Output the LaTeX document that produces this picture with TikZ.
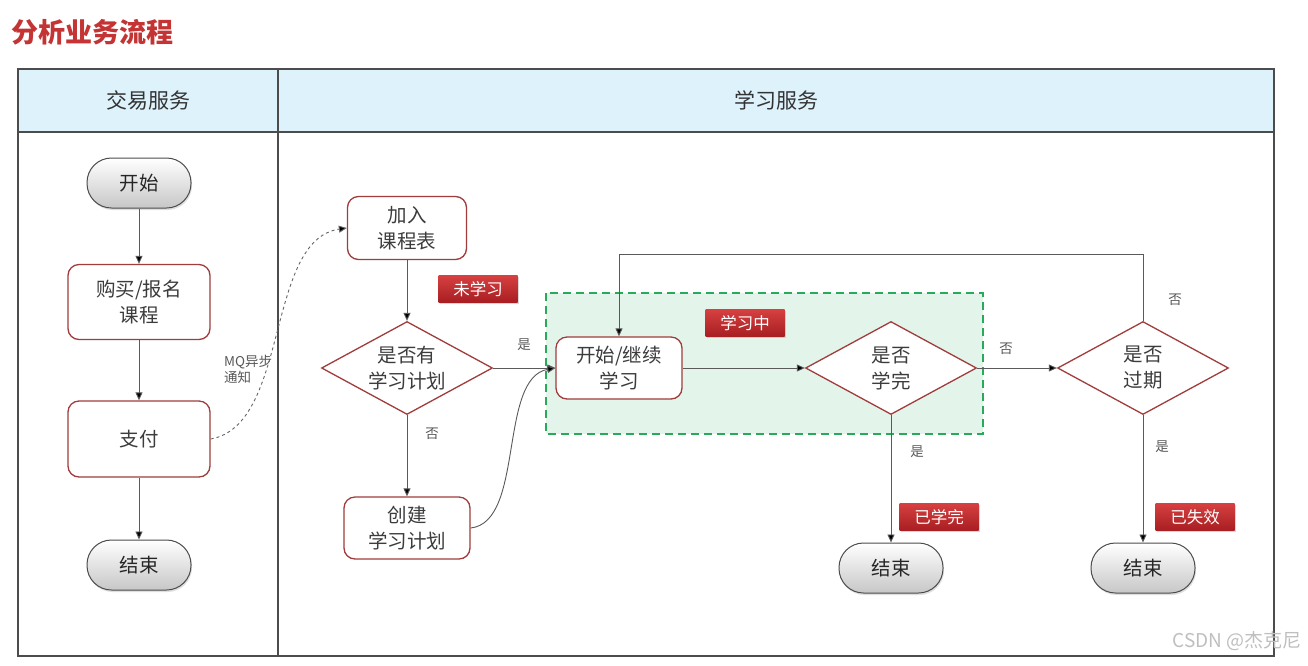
\documentclass[tikz,border=0pt]{standalone}
\usepackage{fontspec}
\setmainfont{Noto Sans CJK SC}
\usetikzlibrary{shapes.geometric,arrows.meta,shadows,calc}
\definecolor{titlered}{RGB}{196,52,52}
\definecolor{boxred}{RGB}{160,60,60}
\definecolor{hdrblue}{RGB}{222,242,252}
\definecolor{txt}{RGB}{60,60,60}
\definecolor{grnfill}{RGB}{227,245,234}
\definecolor{grnline}{RGB}{40,170,90}
\definecolor{tagtop}{RGB}{214,64,64}
\definecolor{tagbot}{RGB}{168,30,34}
\definecolor{lineg}{RGB}{90,90,90}
\tikzset{
  stepbox/.style={draw=boxred, line width=1.3pt, rounded corners=11pt, fill=white, text=txt, font=\fontsize{19.5}{26}\selectfont, align=center, inner sep=0pt},
  pill/.style={draw=black!70, line width=1pt, rounded corners=24.5pt, minimum width=104pt, minimum height=50pt, top color=white, bottom color=black!22, text=black!85, font=\fontsize{19.5}{24}\selectfont, drop shadow={shadow xshift=1pt, shadow yshift=-2pt, opacity=0.25}},
  decide/.style={diamond, draw=boxred, line width=1.3pt, fill=white, aspect=1.83, minimum width=171pt, minimum height=93pt, inner sep=0pt, text=txt, font=\fontsize{19.5}{26}\selectfont, align=center},
  tag/.style={minimum width=79pt, minimum height=27pt, inner sep=0pt, top color=tagtop, bottom color=tagbot, text=white, font=\fontsize{16.5}{20}\selectfont, drop shadow={shadow xshift=1.5pt, shadow yshift=-1.5pt, opacity=0.3}},
  lbl/.style={text=black!65, font=\fontsize{13.5}{16}\selectfont, inner sep=0pt},
  arr/.style={draw=lineg, line width=0.9pt, -{Triangle[length=8pt,width=7pt,fill=black]}},
  hdr/.style={text=black!80, font=\fontsize{21}{25}\selectfont, inner sep=0pt},
}
\begin{document}
\begin{tikzpicture}[x=1pt,y=-1pt]
\useasboundingbox (0,0) rectangle (1308,665);
\fill[white] (0,0) rectangle (1308,665);
% title
\node[anchor=west, text=titlered, font=\fontsize{27}{32}\selectfont\bfseries, inner sep=0pt] (title) at (11,32) {分析业务流程};
% table
\fill[hdrblue] (18,69) rectangle (1274,132);
\draw[black!70, line width=1.2pt] (18,69) rectangle (1274,656);
\draw[black!70, line width=1.2pt] (18,132) -- (1274,132);
\draw[black!70, line width=1.2pt] (278,69) -- (278,656);
\node[hdr] (h1) at (148,100) {交易服务};
\node[hdr] (h2) at (776,100) {学习服务};
% green area
\draw[grnline, fill=grnfill, line width=2pt, dash pattern=on 8pt off 5pt] (546,293) rectangle (983,434);
% left lane
\node[pill] (start) at (139,183) {开始};
\node[stepbox, minimum width=142pt, minimum height=75pt] (buy) at (139,302) {购买/报名\\课程};
\node[stepbox, minimum width=142pt, minimum height=76pt] (pay) at (139,439) {支付};
\node[pill] (end1) at (139,565) {结束};
\draw[arr] (start) -- (buy);
\draw[arr] (buy) -- (pay);
\draw[arr] (pay) -- (end1);
% right lane nodes
\node[stepbox, minimum width=119pt, minimum height=63pt] (join) at (407,228) {加入\\课程表};
\node[decide] (hasplan) at (407,368) {是否有\\学习计划};
\node[stepbox, minimum width=126pt, minimum height=62pt] (create) at (407,528) {创建\\学习计划};
\node[stepbox, minimum width=126pt, minimum height=62pt] (study) at (619,368) {开始/继续\\学习};
\node[decide] (done) at (891,368) {是否\\学完};
\node[decide] (expire) at (1143,368) {是否\\过期};
\node[pill] (end2) at (891,568) {结束};
\node[pill] (end3) at (1143,568) {结束};
% tags
\node[tag] (t1) at (478,289) {未学习};
\node[tag] (t2) at (745,323) {学习中};
\node[tag] (t3) at (939,517) {已学完};
\node[tag] (t4) at (1195,517) {已失效};
% MQ dashed
\draw[draw=black!60, line width=0.9pt, dashed, -{Triangle[length=8pt,width=7pt,fill=black]}] (pay.east) .. controls (290,425) and (265,240) .. (join.west);
\node[lbl, anchor=north west, align=left] (mq) at (224,355) {MQ异步\\通知};
% connectors
\draw[arr] (join) -- (hasplan);
\draw[arr] (hasplan.east) -- (study.west);
\node[lbl] (yes1) at (524,345) {是};
\draw[arr] (hasplan.south) -- (create.north);
\node[lbl] (no1) at (432,434) {否};
\draw[arr] (create.east) .. controls (525,522) and (498,378) .. (study.west);
\draw[arr] (study.east) -- (done.west);
\draw[arr] (done.east) -- (expire.west);
\node[lbl] (no2) at (1006,349) {否};
\coordinate (loopc) at (1143,254);
\draw[arr] (expire.north) -- (loopc) -| (study.north);
\node[lbl] (no3) at (1175,300) {否};
\draw[arr] (done.south) -- (end2.north);
\node[lbl] (yes2) at (917,452) {是};
\draw[arr] (expire.south) -- (end3.north);
\node[lbl] (yes3) at (1162,447) {是};
% watermark
\node[anchor=east, text=black!25, font=\fontsize{19}{22}\selectfont, inner sep=0pt] (wm) at (1302,641) {CSDN @杰克尼};
\end{tikzpicture}
\end{document}
